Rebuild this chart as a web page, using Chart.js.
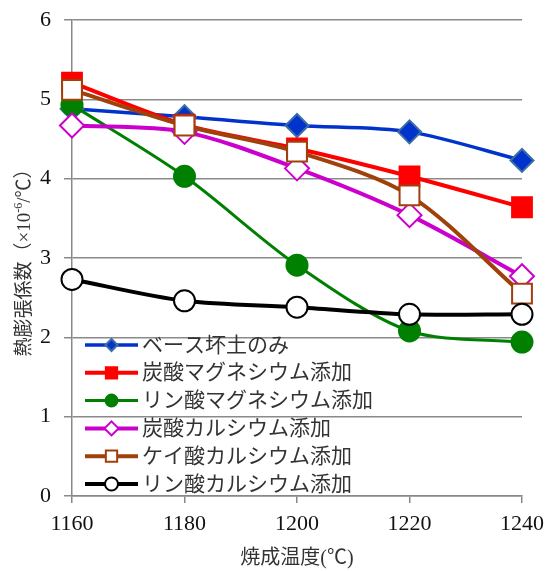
<!DOCTYPE html>
<html lang="ja">
<head>
<meta charset="utf-8">
<script src="https://cdn.jsdelivr.net/npm/chart.js@4/dist/chart.umd.min.js"></script>
<style>
  html, body { margin: 0; padding: 0; background: #fff; }
  #wrap { width: 549px; height: 571px; }
</style>
</head>
<body>
<div id="wrap"><canvas id="c" width="549" height="571"></canvas></div>
<script>
// Firing temperature (°C)
const temps = [1160, 1180, 1200, 1220, 1240];
const xTicks = [1160, 1180, 1200, 1220, 1240];
const yTicks = [0, 1, 2, 3, 4, 5, 6];

// Thermal expansion coefficient (×10^-6/°C) for each additive
const seriesNames = [
  'ベース坏土のみ',
  '炭酸マグネシウム添加',
  'リン酸マグネシウム添加',
  '炭酸カルシウム添加',
  'ケイ酸カルシウム添加',
  'リン酸カルシウム添加'
];
const baseOnly    = [4.88, 4.78, 4.67, 4.59, 4.23];
const mgCarbonate = [5.21, 4.68, 4.38, 4.03, 3.64];
const mgPhosphate = [4.93, 4.03, 2.91, 2.08, 1.94];
const caCarbonate = [4.67, 4.59, 4.13, 3.54, 2.77];
const caSilicate  = [5.12, 4.67, 4.34, 3.79, 2.55];
const caPhosphate = [2.73, 2.46, 2.38, 2.29, 2.29];

const serif = "'Liberation Serif', 'DejaVu Serif', 'Noto Sans CJK JP', serif";
const jp = "'Liberation Serif', 'Noto Sans CJK JP', serif";

const styles = [
  { color: '#0033cc', fill: '#0033cc', edge: '#3a6ea5', shape: 'rectRot', r: 11.5, lw: 3.5, lr: 6 },
  { color: '#ff0000', fill: '#ff0000', edge: '#ff0000', shape: 'rect', r: 14, lw: 4, lr: 8 },
  { color: '#008000', fill: '#008000', edge: '#008000', shape: 'circle', r: 10.5, lw: 3, lr: 6 },
  { color: '#cc00cc', fill: '#ffffff', edge: '#cc00cc', shape: 'rectRot', r: 12, lw: 4, lr: 7 },
  { color: '#a0400a', fill: '#ffffff', edge: '#a0400a', shape: 'rect', r: 14, lw: 4, lr: 8 },
  { color: '#000000', fill: '#ffffff', edge: '#000000', shape: 'circle', r: 10.5, lw: 4, lr: 6.5 }
];
const values = [baseOnly, mgCarbonate, mgPhosphate, caCarbonate, caSilicate, caPhosphate];

const datasets = values.map((vals, i) => ({
  label: seriesNames[i],
  data: temps.map((t, k) => ({ x: t, y: vals[k] })),
  borderColor: styles[i].color,
  borderWidth: styles[i].lw,
  backgroundColor: styles[i].fill,
  pointStyle: styles[i].shape,
  pointRadius: styles[i].r,
  pointBackgroundColor: styles[i].fill,
  pointBorderColor: styles[i].edge,
  pointBorderWidth: 2,
  tension: 0.3,
  fill: false,
  clip: false,
  order: values.length - i
}));

// Legend drawn inside the plot area, lower left
const insideLegend = {
  id: 'insideLegend',
  afterDraw(chart) {
    const ctx = chart.ctx;
    const x0 = 85, x1 = 138, rowY = 345, rowH = 27.8;
    ctx.save();
    chart.data.datasets.forEach((ds, i) => {
      const st = styles[i];
      const y = rowY + i * rowH;
      ctx.beginPath();
      ctx.strokeStyle = st.color;
      ctx.lineWidth = st.lw;
      ctx.moveTo(x0, y);
      ctx.lineTo(x1, y);
      ctx.stroke();
      ctx.fillStyle = st.fill;
      ctx.strokeStyle = st.edge;
      ctx.lineWidth = 2;
      Chart.helpers.drawPoint(ctx, { pointStyle: st.shape, radius: st.lr, borderWidth: 2 }, (x0 + x1) / 2, y);
      ctx.fillStyle = '#333';
      ctx.font = "21px " + jp;
      ctx.textBaseline = 'middle';
      ctx.textAlign = 'left';
      ctx.fillText(ds.label, 142, y + 1);
    });
    ctx.restore();
  }
};

// Rotated y-axis title with a superscript exponent
const yTitle = {
  id: 'yTitle',
  afterDraw(chart) {
    const ctx = chart.ctx;
    const parts = [
      { t: '熱膨張係数（×10', size: 19, dy: 0 },
      { t: '-6', size: 12, dy: -8 },
      { t: '/℃）', size: 19, dy: 0 }
    ];
    ctx.save();
    ctx.fillStyle = '#333';
    ctx.textBaseline = 'alphabetic';
    let total = 0;
    parts.forEach(p => { ctx.font = p.size + 'px ' + jp; p.w = ctx.measureText(p.t).width; total += p.w; });
    ctx.translate(30, 258);
    ctx.rotate(-Math.PI / 2);
    let x = -total / 2;
    parts.forEach(p => {
      ctx.font = p.size + 'px ' + jp;
      ctx.fillText(p.t, x, p.dy);
      x += p.w;
    });
    ctx.restore();
  }
};

new Chart(document.getElementById('c'), {
  type: 'line',
  data: { datasets },
  options: {
    responsive: false,
    animation: false,
    layout: { padding: { top: 20, right: 27, left: 0, bottom: 0 } },
    plugins: {
      legend: { display: false },
      tooltip: { enabled: false }
    },
    scales: {
      x: {
        type: 'linear',
        min: 1160, max: 1240,
        afterBuildTicks: s => { s.ticks = xTicks.map(v => ({ value: v })); },
        afterFit: s => { s.height = 75; s.paddingLeft = 0; s.paddingRight = 0; },
        grid: { display: true, drawOnChartArea: false, color: '#888', lineWidth: 1.5, tickLength: 7 },
        border: { color: '#888', width: 1.5 },
        ticks: { color: '#111', font: { family: serif, size: 22 }, padding: 8, callback: v => String(v) },
        title: { display: true, text: '焼成温度(℃)', color: '#333', font: { family: jp, size: 20 }, padding: { top: 4, bottom: 0 } }
      },
      y: {
        min: 0, max: 6,
        afterBuildTicks: s => { s.ticks = yTicks.map(v => ({ value: v })); },
        afterFit: s => { s.width = 72; s.paddingTop = 0; s.paddingBottom = 0; },
        grid: { color: '#8a8a8a', lineWidth: 1.5, tickLength: 8 },
        border: { color: '#888', width: 1.5 },
        ticks: { color: '#111', font: { family: serif, size: 22 }, padding: 13 }
      }
    }
  },
  plugins: [insideLegend, yTitle]
});
</script>
</body>
</html>
